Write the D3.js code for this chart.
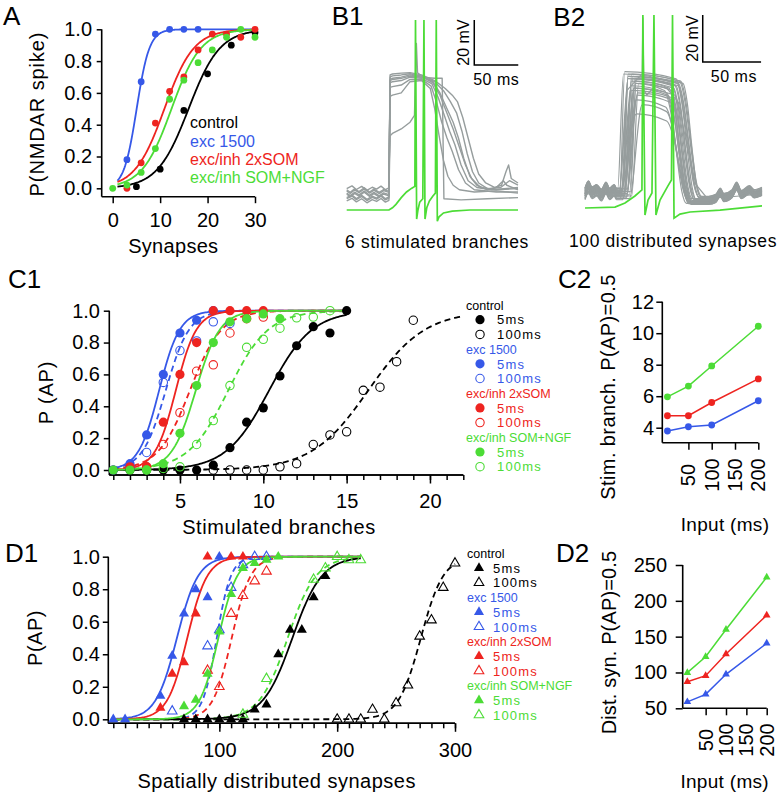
<!DOCTYPE html>
<html><head><meta charset="utf-8"><title>chart</title>
<script src="https://cdn.jsdelivr.net/npm/d3@7/dist/d3.min.js"></script>
<style>html,body{margin:0;padding:0;background:#fff}</style>
</head><body>
<svg id="chart" width="778" height="795" xmlns="http://www.w3.org/2000/svg"></svg>
<script>
// ---------- colours ----------
const BLACK="#000000", BLUE="#3658e8", RED="#ee2420", GREEN="#4cdc36", GRAY="#969d9d";

// ---------- Panel A data ----------
const probTicks=[0,0.2,0.4,0.6,0.8,1.0];
const aTicksX=[0,10,20,30];
const aCtrlX=[5,10,15,20,25,30], aCtrlY=[0.01,0.12,0.49,0.72,0.90,0.98];
const aExcX=[3,6,9,12,15,18], aExcY=[0.18,0.67,0.97,1.0,1.0,1.0];
const aSomX=[3,6,9,12,15,18,21,24,27,30], aSomY=[0.0,0.16,0.41,0.61,0.70,0.87,0.97,0.97,0.95,1.0];
const aNgfX=[0,3,6,9,12,15,18,21,24,27,30], aNgfY=[0.0,0.02,0.10,0.25,0.56,0.68,0.79,0.87,0.95,1.0,0.95];
const aFits=[[16,3.3],[5.05,1.35],[10.9,3.1],[12.4,3.1]];   // [midpoint, slope] control, exc, som, ngf
const legendNames=["control","exc 1500","exc/inh 2xSOM","exc/inh SOM+NGF"];
const legendItems=["5ms","100ms"];

// ---------- Panel C1 data ----------
const cTicksX=[5,10,15,20];
const cMinorX=[1,2,3,4,5,6,7,8,9,10,11,12,13,14,15,16,17,18,19,20,21,22];
const cCtrl5X=[1,2,3,4,5,6,7,8,9,10,11,12,13,14,15], cCtrl5Y=[0,0,0,0,0,0,0.03,0.14,0.30,0.39,0.59,0.78,0.90,0.86,1.0];
const cCtrl100X=[7,8,9,10,11,12,13,14,15,16,17,18,19], cCtrl100Y=[0,0,0,0,0.02,0.04,0.16,0.22,0.24,0.50,0.52,0.68,0.94];
const cExc5X=[1,2,3,4,5,6,7], cExc5Y=[0,0.04,0.22,0.60,0.86,0.94,1.0];
const cExc100X=[2,3,4,5,6,7,8], cExc100Y=[0.02,0.11,0.55,0.75,0.81,0.93,0.92];
const cSom5X=[2,3,4,5,6,7,8,9,10], cSom5Y=[0.02,0.02,0.30,0.60,0.80,1.0,1.0,1.0,1.0];
const cSom100X=[3,4,5,6,7,8,9,10], cSom100Y=[0.02,0.16,0.36,0.62,0.66,0.86,0.95,0.96];
const cNgf5X=[1,2,3,4,5,6,7,8,9,10,11], cNgf5Y=[0,0,0,0.04,0.23,0.53,0.80,0.93,0.95,0.98,0.95];
const cNgf100X=[3,4,5,6,7,8,9,10,11,12,13,14], cNgf100Y=[0,0.01,0.02,0.16,0.31,0.53,0.77,0.82,0.89,0.955,0.96,1.0];
const cFits5=[[10.35,1.29],[3.75,0.62],[4.75,0.62],[5.95,0.72]];
const cFits100=[[16.3,1.7],[4.15,0.7],[5.6,0.95],[7.9,1.2]];
const cFitRange5=[1,15], cFitRange100=[[1,22],[1,15],[1,15],[1,15]];

// ---------- Panel C2 data ----------
const inputMs=[5,50,100,200];
const inputTicks=[50,100,150,200], c2TicksY=[4,6,8,10,12];
const c2Exc=[3.79,4.06,4.17,5.71], c2Som=[4.76,4.76,5.6,7.1], c2Ngf=[5.96,6.64,7.92,10.44];

// ---------- Panel D1 data ----------
const dTicksX=[100,200,300];
const dMinorX=[10,20,30,40,50,60,70,80,90,100,110,120,130,140,150,160,170,180,190,200,210,220,230,240,250,260,270,280,290,300];
const dCtrl5X=[70,80,90,100,110,120,130,140,150,160,170,180,190], dCtrl5Y=[0,0,0,0,0,0,0.06,0.09,0.40,0.55,0.55,0.75,0.88];
const dCtrl100X=[200,210,220,230,240,250,260,270,280,290,300], dCtrl100Y=[0,0,0,0.06,0,0.10,0.21,0.51,0.61,0.81,0.96];
const dExc5X=[10,20,50,60,70,80,90,100], dExc5Y=[0,0,0.145,0.39,0.65,0.80,0.75,1.0];
const dExc100X=[60,90,100,110,120,130,140], dExc100Y=[0.05,0.45,0.55,0.81,0.95,1.0,1.0];
const dSom5X=[50,60,70,80,90,110,120], dSom5Y=[0.07,0.28,0.35,0.65,1.0,1.0,1.0];
const dSom100X=[90,100,110,120,130,140], dSom100Y=[0.30,0.20,0.65,0.76,0.85,0.91];
const dNgf5X=[70,80,90,100,110,120,130,140,150], dNgf5Y=[0.08,0.12,0.28,0.54,0.77,0.93,0.96,0.98,1.0];
const dNgf100X=[120,140,180,190,200,210,220], dNgf100Y=[0.03,0.25,0.86,0.93,1.0,0.98,0.98];
const dFits5=[[162,12.5],[64,9],[72.8,8.5],[99.2,8]];
const dFits100=[[271,9.5],[97.8,6],[110.5,8],[158,12]];
const dFitRange5=[10,220], dFitRange100=[[10,300],[10,220],[10,220],[10,220]];

// ---------- Panel D2 data ----------
const d2TicksY=[50,100,150,200,250];
const d2Exc=[59,69.5,97.4,140.7], d2Som=[87,95.5,125.8,180], d2Ngf=[99.7,122,160,232.8];

// ---------- Panel B1 traces (ms, mV) ----------
const b1NoisePreA=[[0,0],[6,1.2],[11,-0.4],[17,1.0],[23,-0.8],[29,0.6],[34,-0.2],[39,1.1],[44,-0.5],[48,0.3]];
const b1NoisePreB=[[0,0.5],[4,-0.6],[9,0.9],[14,-0.3],[20,1.4],[26,-0.5],[31,0.8],[37,-0.7],[42,0.6],[48,-0.2]];
const b1Pre=[-60.5,-62,-65,-63.5,-66,-61.5,-64.5,-63];
const b1T1=[[49.3,-10],[52,-9.6],[62,-9.2],[72,-9],[85,-10],[100,-12.5],[112,-16],[120,-19],[126,-22],[132,-29],[138,-38],[144,-47],[150,-54],[158,-58],[168,-60],[176,-59],[181,-53],[184,-50],[187,-56],[194.7,-58]];
const b1T2=[[49.3,-11],[52,-10.4],[62,-10],[72,-9.5],[85,-10.5],[100,-13],[110,-17],[118,-22],[125,-27],[131,-35],[137,-45],[143,-53],[150,-58],[160,-60.5],[175,-60],[185,-57],[194.7,-59]];
const b1T3=[[49.3,-12],[52,-11.5],[62,-11],[72,-10],[85,-11],[98,-13],[106,-18],[114,-25],[121,-31],[127,-38],[133,-47],[140,-55],[148,-59],[160,-61],[170,-60],[178,-57],[182,-59],[194.7,-61]];
const b1T4=[[49.3,-13.5],[52,-13],[62,-12.5],[72,-11],[85,-11.5],[97,-14],[104,-20],[111,-28],[117,-35],[123,-41],[130,-50],[138,-57],[148,-60],[165,-61],[194.7,-60]];
const b1T5=[[49.3,-15.5],[52,-15.2],[62,-14.5],[72,-12],[85,-12],[96,-15],[102,-22],[108,-31],[114,-38],[120,-44],[127,-52],[135,-58],[145,-61],[170,-62],[194.7,-62]];
const b1T6=[[49.3,-19.5],[52,-19],[62,-18],[72,-13],[85,-12.5],[95,-16],[100,-25],[105,-37],[110,-48],[115,-55],[121,-59],[128,-61],[145,-62],[170,-61.5],[194.7,-62.5]];
const b1T7=[[49.3,-12.5],[52,-12],[62,-11.5],[72,-10.5],[85,-11],[100,-11.5],[108.5,-11.5],[110.5,-65],[130,-65.5],[160,-65],[194.7,-64.5]];
const b1T8=[[49.3,-37],[52,-36],[62,-34],[72,-31],[77,-28],[79.2,4],[80.5,-9],[85,-10.5],[98,-13.5],[106,-19],[114,-27],[121,-34],[128,-42],[135,-50],[142,-56],[152,-60],[170,-61],[194.7,-60.5]];
const b1Green=[[0,-70],[48,-70],[52,-69],[56,-67.5],[62,-64.5],[68,-62],[74,-60.3],[77.5,-59.5],[78.2,14.4],[79.5,-74],[81,-70],[83,-66.5],[86.5,-65],[87.8,14.4],[89,-74],[91,-69],[94,-66],[98,-63.8],[100.8,-62.5],[101.8,14.4],[103,-75],[105,-73],[110,-71.3],[120,-70.5],[140,-70],[194.7,-70]];
const b1Bar=[145,14.4,50,20]; // t, top mV, 50 ms, 20 mV

// ---------- Panel B2 traces (ms, mV) ----------
const b2Onset=[28,29,30,30,31,31,32,32,33,33,34,34,35,35,36,36,37,38,38,39,40,30,33,36];
const b2Rise=[5,8,4,10,6,9,5,12,7,4,8,6,10,5,7,9,4,6,11,5,6,14,9,7];
const b2Top=[-13,-15,-12,-18,-14,-20,-13,-24,-16,-14,-19,-15,-22,-13,-17,-21,-14,-16,-26,-15,-17,-30,-19,-15];
const b2Off=[72,75,78,70,80,74,82,69,76,79,71,77,73,81,68,75,84,72,70,78,74,70,77,80];
const b2Fall=[18,16,20,17,19,15,18,22,16,17,20,18,16,19,21,17,15,19,20,16,18,22,17,18];
const b2Pre=[-62,-64,-61.5,-66,-63.5,-65,-62.5,-66.5,-64,-61.8,-64.7,-63.2,-65.8,-62.8,-65.3,-63.8,-61.6,-64.4,-66,-63,-64.9,-63.9,-64.1,-62.3];
const b2Post=[-66,-67,-65.5,-68,-66.5,-67.5,-65,-68.5,-66,-67,-67.8,-66.2,-68.2,-65.8,-67.2,-66.8,-65.2,-67.4,-68,-66.4,-67.6,-68.4,-66.6,-65.6];
const b2PreBumps=[[0,0],[3,3],[6,0.5],[10,1.5],[14,-0.5],[18,2.5],[21,0],[25,1.5],[27,0]];
const b2PostBumps=[[106,0],[112,0.8],[116,3.5],[119,1.2],[126,2.8],[130,6],[134,2.5],[141,4.5],[145,2.8],[151.7,3.8]];
const b2FallShape=[[0,0],[0.25,0.18],[0.5,0.55],[0.75,0.88],[1,1]];
const b2Ap=[[0,-64],[30,-64],[36,-20],[45,-15],[49,-13],[49.6,11],[50.5,-20],[53,-22],[60,-18],[70,-19],[80,-25],[88,-45],[95,-60],[105,-66],[130,-65],[151.7,-64]];
const b2Green=[[0,-70],[25.7,-69.6],[34.3,-67.9],[42.8,-64.9],[48.8,-62.3],[49.6,12.1],[51.4,-73],[54,-66.6],[57.4,-63.6],[59.1,12.1],[60.8,-73],[64.3,-66.6],[71.1,-60.6],[74.1,-58.1],[75,12.1],[76.3,-74.3],[81.4,-72.6],[90,-71.7],[115.7,-70.9],[151.7,-69.1]];
const b2Bar=[100.9,12.1,50,20];

// ================= drawing =================
const svg=d3.select("#chart");
svg.append("rect").attr("width",778).attr("height",795).attr("fill","#fff");

const FONT="'Liberation Sans',Arial,sans-serif";
const fs=b=>b;
const AX=1.6;
const COLS=[BLACK,BLUE,RED,GREEN];

function label(str,x,y,base,o={}){
  const t=svg.append("text").attr("x",x).attr("y",y).text(str)
    .style("font-family",FONT).style("font-size",fs(base)+"px")
    .attr("fill",o.fill||"#000").attr("text-anchor",o.anchor||"start");
  if(o.ls) t.style("letter-spacing",o.ls+"px");
  if(o.rot) t.attr("transform",`rotate(${o.rot},${x},${y})`);
  return t;
}
function styleAxis(g){
  g.attr("font-family",null).attr("font-size",null);
  g.select(".domain").remove();
  g.selectAll(".tick line").attr("stroke","#000").attr("stroke-width",1.5);
  g.selectAll(".tick text").attr("fill","#000").style("font-family",FONT).style("font-size",fs(20)+"px");
}
function leftAxis(scale,x,yTop,yBot,ticks,fmt,tickLen,labelEnd){
  const g=svg.append("g").attr("transform",`translate(${x},0)`)
    .call(d3.axisLeft(scale).tickValues(ticks).tickFormat(fmt).tickSize(tickLen).tickPadding(x-tickLen-labelEnd).tickSizeOuter(0));
  styleAxis(g);
  g.append("line").attr("x1",0).attr("x2",0).attr("y1",yTop).attr("y2",yBot).attr("stroke","#000").attr("stroke-width",AX);
  return g;
}
function bottomAxis(scale,y,xL,xR,ticks,fmt,tickLen,baseline){
  const g=svg.append("g").attr("transform",`translate(0,${y})`)
    .call(d3.axisBottom(scale).tickValues(ticks).tickFormat(fmt).tickSize(tickLen).tickSizeOuter(0));
  styleAxis(g);
  g.selectAll(".tick text").attr("dy",null).attr("y",baseline-y);
  g.append("line").attr("x1",xL).attr("x2",xR).attr("y1",0).attr("y2",0).attr("stroke","#000").attr("stroke-width",AX);
  return g;
}
const sig=(p,x)=>1/(1+Math.exp(-(x-p[0])/p[1]));
const fitPts=(p,a,b)=>d3.range(0,201).map(i=>{const x=a+(b-a)*i/200;return [x,sig(p,x)];});
const zip=(X,Y)=>X.map((x,i)=>[x,Y[i]]);
const f1=d3.format(".1f");
const triPath=(size)=>d3.symbol(d3.symbolTriangle,size)();

// legend helper for C1 / D1
function bigLegend(y0,step,hx,mx,tx,sym){
  legendNames.forEach((n,gi)=>{
    const yh=y0+gi*3*step;
    label(n,hx,yh+4.5,12.5,{fill:COLS[gi]});
    legendItems.forEach((it,k)=>{
      const yc=yh+(k+1)*step;
      sym(mx,yc,COLS[gi],k===0);
      label(it,tx,yc+4.7,13,{fill:COLS[gi],ls:1.2});
    });
  });
}

// ---------------- Panel A ----------------
{
  const x=d3.scaleLinear().domain([0,30]).range([112.7,255]);
  const y=d3.scaleLinear().domain([0,1]).range([188.3,29.3]);
  leftAxis(y,101.7,y(1),196.7,probTicks,f1,5,92);
  bottomAxis(x,196.7,101.7,x(30),aTicksX,d3.format("d"),6.5,226.7);
  const line=d3.line().x(d=>x(d[0])).y(d=>y(d[1]));
  aFits.forEach((p,i)=>svg.append("path").attr("d",line(fitPts(p,1,30))).attr("fill","none").attr("stroke",COLS[i]).attr("stroke-width",1.8));
  [[aCtrlX,aCtrlY],[aExcX,aExcY],[aSomX,aSomY],[aNgfX,aNgfY]].forEach(([X,Y],i)=>{
    svg.append("g").selectAll("circle").data(zip(X,Y)).join("circle")
      .attr("cx",d=>x(d[0])).attr("cy",d=>y(d[1])).attr("r",3.4).attr("fill",COLS[i]);
  });
  legendNames.forEach((n,i)=>label(n,190,128.3+i*18.3,16,{fill:COLS[i]}));
  label("P(NMDAR spike)",44,114,20,{anchor:"middle",rot:-90,ls:0.9});
  label("Synapses",173.3,253,20,{anchor:"middle",ls:0.3});
  label("A",3,25,26);
}

// ---------------- Panel B1 ----------------
{
  const x=d3.scaleLinear().domain([0,194.7]).range([346.7,518]);
  const y=d3.scaleLinear().domain([-70,14.4]).range([210,20]);
  const line=d3.line().x(d=>x(d[0])).y(d=>y(d[1]));
  [b1T1,b1T2,b1T3,b1T4,b1T5,b1T6,b1T7,b1T8].forEach((tr,i)=>{
    const noise=i%2?b1NoisePreB:b1NoisePreA;
    const pts=noise.map(([t,v])=>[t,b1Pre[i]+v]).concat(tr);
    svg.append("path").attr("d",line(pts)).attr("fill","none").attr("stroke",GRAY).attr("stroke-width",1.4).attr("stroke-linejoin","round");
  });
  svg.append("path").attr("d",line(b1Green)).attr("fill","none").attr("stroke",GREEN).attr("stroke-width",1.7);
  const [bt,bv,bms,bmv]=b1Bar;
  svg.append("path").attr("d",line([[bt,bv],[bt,bv-bmv],[bt+bms,bv-bmv]])).attr("fill","none").attr("stroke","#000").attr("stroke-width",1.5);
  label("20 mV",x(bt)-5,(y(bv)+y(bv-bmv))/2,16,{anchor:"middle",rot:-90});
  label("50 ms",(x(bt)+x(bt+bms))/2,85,16,{anchor:"middle",ls:0.5});
  label("6 stimulated branches",437,248,17.5,{anchor:"middle",ls:0.6});
  label("B1",331.7,25,26);
}

// ---------------- Panel B2 ----------------
{
  const x=d3.scaleLinear().domain([0,151.7]).range([585,762]);
  const y=d3.scaleLinear().domain([-70,12.1]).range([208,15]);
  const line=d3.line().x(d=>x(d[0])).y(d=>y(d[1])).curve(d3.curveMonotoneX);
  const lineL=d3.line().x(d=>x(d[0])).y(d=>y(d[1]));
  b2Onset.forEach((on,i)=>{
    const pre=b2Pre[i], top=b2Top[i], off=b2Off[i], fall=b2Fall[i], post=b2Post[i];
    const pts=b2PreBumps.filter(d=>d[0]<on).map(([t,v])=>[t,pre+v]);
    pts.push([on,pre],[on+b2Rise[i],top],[off,top-3]);
    b2FallShape.slice(1).forEach(([ft,fv])=>pts.push([off+ft*fall,(top-3)+fv*(post-(top-3))]));
    b2PostBumps.forEach(([t,v])=>{ if(t>off+fall) pts.push([t,post+v]); });
    svg.append("path").attr("d",line(pts)).attr("fill","none").attr("stroke",GRAY).attr("stroke-width",1.2);
  });
  svg.append("path").attr("d",lineL(b2Ap)).attr("fill","none").attr("stroke",GRAY).attr("stroke-width",1.2);
  svg.append("path").attr("d",lineL(b2Green)).attr("fill","none").attr("stroke",GREEN).attr("stroke-width",1.7);
  const [bt,bv,bms,bmv]=b2Bar;
  svg.append("path").attr("d",lineL([[bt,bv],[bt,bv-bmv],[bt+bms,bv-bmv]])).attr("fill","none").attr("stroke","#000").attr("stroke-width",1.5);
  label("20 mV",x(bt)-5,(y(bv)+y(bv-bmv))/2,16,{anchor:"middle",rot:-90});
  label("50 ms",(x(bt)+x(bt+bms))/2+2,82,16,{anchor:"middle",ls:0.5});
  label("100 distributed synapses",673,247,17.5,{anchor:"middle",ls:0.6});
  label("B2",553.3,26,26);
}

// ---------------- Panel C1 ----------------
{
  const x=d3.scaleLinear().domain([1,22]).range([113.3,463.3]);
  const y=d3.scaleLinear().domain([0,1]).range([470,310.7]);
  leftAxis(y,109.3,y(1),475,probTicks,f1,5.5,100);
  bottomAxis(x,475,109.3,x(22),cMinorX,()=>"",5,0);
  bottomAxis(x,475,109.3,x(22),cTicksX,d3.format("d"),8.5,507.5);
  const line=d3.line().x(d=>x(d[0])).y(d=>y(d[1]));
  cFits100.forEach((p,i)=>svg.append("path").attr("d",line(fitPts(p,cFitRange100[i][0],cFitRange100[i][1]))).attr("fill","none").attr("stroke",COLS[i]).attr("stroke-width",1.8).attr("stroke-dasharray","6,4"));
  cFits5.forEach((p,i)=>svg.append("path").attr("d",line(fitPts(p,cFitRange5[0],cFitRange5[1]))).attr("fill","none").attr("stroke",COLS[i]).attr("stroke-width",1.8));
  const sets=[[cCtrl5X,cCtrl5Y,cCtrl100X,cCtrl100Y],[cExc5X,cExc5Y,cExc100X,cExc100Y],[cSom5X,cSom5Y,cSom100X,cSom100Y],[cNgf5X,cNgf5Y,cNgf100X,cNgf100Y]];
  sets.forEach(([X5,Y5,X1,Y1],i)=>{
    svg.append("g").selectAll("circle").data(zip(X1,Y1)).join("circle").attr("cx",d=>x(d[0])).attr("cy",d=>y(d[1])).attr("r",4.2).attr("fill","none").attr("stroke",COLS[i]).attr("stroke-width",1.1);
    svg.append("g").selectAll("circle").data(zip(X5,Y5)).join("circle").attr("cx",d=>x(d[0])).attr("cy",d=>y(d[1])).attr("r",4.6).attr("fill",COLS[i]);
  });
  bigLegend(305,14.7,466,480,497,(cx,cy,c,filled)=>{
    svg.append("circle").attr("cx",cx).attr("cy",cy).attr("r",filled?4.6:4.2)
      .attr("fill",filled?c:"none").attr("stroke",filled?"none":c).attr("stroke-width",1.1);
  });
  label("P (AP)",53,392.5,20,{anchor:"middle",rot:-90,ls:0.8});
  label("Stimulated branches",279,534,20,{anchor:"middle",ls:0.6});
  label("C1",8,288,26);
}

// ---------------- Panel C2 ----------------
{
  const x=d3.scaleLinear().domain([0,200]).range([665.1,758.3]);
  const y=d3.scaleLinear().domain([4,12]).range([427.7,301.7]);
  leftAxis(y,662.3,y(12),442.7,c2TicksY,d3.format("d"),6,654);
  bottomAxis(x,442.7,662.3,x(200),inputTicks,()=>"",7,0);
  inputTicks.forEach(v=>label(String(v),x(v)+7,475,20,{anchor:"middle",rot:-90}));
  const line=d3.line().x(d=>x(d[0])).y(d=>y(d[1]));
  [c2Exc,c2Som,c2Ngf].forEach((Y,i)=>{
    const c=COLS[i+1], pts=zip(inputMs,Y);
    svg.append("path").attr("d",line(pts)).attr("fill","none").attr("stroke",c).attr("stroke-width",1.5);
    svg.append("g").selectAll("circle").data(pts).join("circle").attr("cx",d=>x(d[0])).attr("cy",d=>y(d[1])).attr("r",3.4).attr("fill",c);
  });
  label("Stim. branch. P(AP)=0.5",615,387,20,{anchor:"middle",rot:-90,ls:0.4});
  label("Input (ms)",725,531,19,{anchor:"middle",ls:0.3});
  label("C2",558,288,26);
}

// ---------------- Panel D1 ----------------
{
  const x=d3.scaleLinear().domain([10,300]).range([113.3,455]);
  const y=d3.scaleLinear().domain([0,1]).range([719.3,556.7]);
  leftAxis(y,108.3,y(1),723.3,probTicks,f1,5.5,100);
  bottomAxis(x,723.3,108.3,455,dMinorX,()=>"",5,0);
  bottomAxis(x,723.3,108.3,455,dTicksX,d3.format("d"),8.5,756.7);
  const line=d3.line().x(d=>x(d[0])).y(d=>y(d[1]));
  dFits100.forEach((p,i)=>svg.append("path").attr("d",line(fitPts(p,dFitRange100[i][0],dFitRange100[i][1]))).attr("fill","none").attr("stroke",COLS[i]).attr("stroke-width",1.8).attr("stroke-dasharray","6,4"));
  dFits5.forEach((p,i)=>svg.append("path").attr("d",line(fitPts(p,dFitRange5[0],dFitRange5[1]))).attr("fill","none").attr("stroke",COLS[i]).attr("stroke-width",1.8));
  const sets=[[dCtrl5X,dCtrl5Y,dCtrl100X,dCtrl100Y],[dExc5X,dExc5Y,dExc100X,dExc100Y],[dSom5X,dSom5Y,dSom100X,dSom100Y],[dNgf5X,dNgf5Y,dNgf100X,dNgf100Y]];
  sets.forEach(([X5,Y5,X1,Y1],i)=>{
    svg.append("g").selectAll("path").data(zip(X1,Y1)).join("path").attr("d",triPath(40))
      .attr("transform",d=>`translate(${x(d[0])},${y(d[1])})`).attr("fill","none").attr("stroke",COLS[i]).attr("stroke-width",1.1);
    svg.append("g").selectAll("path").data(zip(X5,Y5)).join("path").attr("d",triPath(44))
      .attr("transform",d=>`translate(${x(d[0])},${y(d[1])})`).attr("fill",COLS[i]);
  });
  bigLegend(553.3,14.7,467,479,493,(cx,cy,c,filled)=>{
    svg.append("path").attr("d",triPath(filled?44:40)).attr("transform",`translate(${cx},${cy})`)
      .attr("fill",filled?c:"none").attr("stroke",filled?"none":c).attr("stroke-width",1.1);
  });
  label("P(AP)",42,638,20,{anchor:"middle",rot:-90,ls:0.5});
  label("Spatially distributed synapses",276.7,788,20,{anchor:"middle",ls:0.5});
  label("D1",5,561.7,26);
}

// ---------------- Panel D2 ----------------
{
  const x=d3.scaleLinear().domain([0,200]).range([685.3,766.7]);
  const y=d3.scaleLinear().domain([50,250]).range([708.3,565]);
  leftAxis(y,682.7,565,708.3,d2TicksY,d3.format("d"),7,667);
  bottomAxis(x,708.3,682.7,766.7,inputTicks,()=>"",7,0);
  inputTicks.forEach(v=>label(String(v),x(v)+7,740,20,{anchor:"middle",rot:-90}));
  const line=d3.line().x(d=>x(d[0])).y(d=>y(d[1]));
  [d2Exc,d2Som,d2Ngf].forEach((Y,i)=>{
    const c=COLS[i+1], pts=zip(inputMs,Y);
    svg.append("path").attr("d",line(pts)).attr("fill","none").attr("stroke",c).attr("stroke-width",1.5);
    svg.append("g").selectAll("path").data(pts).join("path").attr("d",triPath(26))
      .attr("transform",d=>`translate(${x(d[0])},${y(d[1])})`).attr("fill",c);
  });
  label("Dist. syn. P(AP)=0.5",616,642.5,20,{anchor:"middle",rot:-90,ls:0.15});
  label("Input (ms)",724.7,788,19,{anchor:"middle",ls:0.3});
  label("D2",556,561.7,26);
}
</script>
</body></html>
